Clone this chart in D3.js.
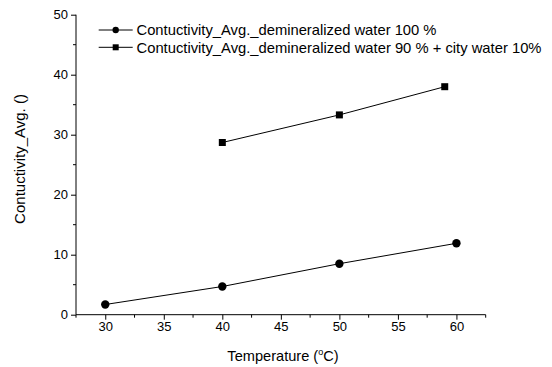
<!DOCTYPE html>
<html>
<head>
<meta charset="utf-8">
<script src="https://cdn.jsdelivr.net/npm/d3@7"></script>
<style>
body { margin: 0; background: #fff; }
text { font-family: Arial, "Liberation Sans", sans-serif; fill: #000; }
</style>
</head>
<body>
<svg id="chart" width="552" height="367"></svg>
<script>
// data
var series1Name = "Contuctivity_Avg._demineralized water 100 %",
	series2Name = "Contuctivity_Avg._demineralized water 90 % + city water 10%";
var temp1 = [30, 40, 50, 60],
	cond1 = [1.7, 4.7, 8.5, 11.9];
var temp2 = [40, 50, 59],
	cond2 = [28.7, 33.3, 38.0];
var xTicks = [30, 35, 40, 45, 50, 55, 60],
	yTicks = [0, 10, 20, 30, 40, 50];

var svg = d3.select("#chart");

var x = d3.scaleLinear().domain([27.5, 62.5]).range([76, 485.7]);
var y = d3.scaleLinear().domain([0, 50]).range([314.7, 14.7]);

// minor ticks
var xMinor = d3.range(27.5, 63, 5),
	yMinor = d3.range(5, 50, 10);

var gx = svg.append("g").attr("transform", "translate(0," + y(0) + ")");
gx.append("line").attr("x1", x(27.5)).attr("x2", x(62.5)).attr("stroke", "#000");
gx.selectAll(".minor").data(xMinor).enter().append("line")
	.attr("x1", function(d){ return x(d); }).attr("x2", function(d){ return x(d); })
	.attr("y1", 0).attr("y2", 3).attr("stroke", "#000");
gx.call(d3.axisBottom(x).tickValues(xTicks).tickSize(5).tickPadding(2));
gx.select(".domain").remove();
gx.selectAll("text").style("font-size", "13px").style("font-family", "Arial, 'Liberation Sans', sans-serif");

var gy = svg.append("g").attr("transform", "translate(" + x(27.5) + ",0)");
gy.selectAll(".minor").data(yMinor).enter().append("line")
	.attr("x1", 0).attr("x2", -3)
	.attr("y1", function(d){ return y(d); }).attr("y2", function(d){ return y(d); })
	.attr("stroke", "#000");
gy.call(d3.axisLeft(y).tickValues(yTicks).tickSize(5).tickPadding(3));
gy.select(".domain").attr("d", "M0," + y(0) + "V" + y(50));
gy.selectAll("text").style("font-size", "13px").style("font-family", "Arial, 'Liberation Sans', sans-serif");

// lines and markers
var line = d3.line()
	.x(function(d){ return x(d[0]); })
	.y(function(d){ return y(d[1]); });

var pts1 = d3.zip(temp1, cond1),
	pts2 = d3.zip(temp2, cond2);

svg.append("path").datum(pts1).attr("d", line)
	.attr("fill", "none").attr("stroke", "#000").attr("stroke-width", 1);
svg.append("path").datum(pts2).attr("d", line)
	.attr("fill", "none").attr("stroke", "#000").attr("stroke-width", 1);

svg.selectAll(".dot").data(pts1).enter().append("circle")
	.attr("cx", function(d){ return x(d[0]); })
	.attr("cy", function(d){ return y(d[1]); })
	.attr("r", 4.2).attr("fill", "#000");

svg.selectAll(".sq").data(pts2).enter().append("rect")
	.attr("x", function(d){ return x(d[0]) - 3.5; })
	.attr("y", function(d){ return y(d[1]) - 3.5; })
	.attr("width", 7).attr("height", 7).attr("fill", "#000");

// legend
var legend = svg.append("g");
var ly = [30, 47.3];
legend.selectAll(".ll").data(ly).enter().append("line")
	.attr("x1", 98.7).attr("x2", 132.7)
	.attr("y1", function(d){ return d; }).attr("y2", function(d){ return d; })
	.attr("stroke", "#000");
legend.append("circle").attr("cx", 115.7).attr("cy", ly[0]).attr("r", 3.2).attr("fill", "#000");
legend.append("rect").attr("x", 112.7).attr("y", ly[1] - 3).attr("width", 6).attr("height", 6).attr("fill", "#000");
legend.selectAll(".lt").data([series1Name, series2Name]).enter().append("text")
	.attr("x", 136.5).attr("y", function(d, i){ return ly[i] + 5.3; })
	.attr("textLength", function(d, i){ return i ? 405 : 300; })
	.attr("lengthAdjust", "spacingAndGlyphs")
	.style("font-size", "15px")
	.text(function(d){ return d; });

// axis titles
var xt = svg.append("text").attr("x", 283).attr("y", 360.5)
	.attr("text-anchor", "middle").style("font-size", "14.6px");
xt.append("tspan").text("Temperature (");
xt.append("tspan").attr("dy", -5.5).style("font-size", "9px").text("o");
xt.append("tspan").attr("dy", 5.5).text("C)");

svg.append("text")
	.attr("transform", "translate(25,159) rotate(-90)")
	.attr("text-anchor", "middle").style("font-size", "15px")
	.text("Contuctivity_Avg. ()");
</script>
</body>
</html>
